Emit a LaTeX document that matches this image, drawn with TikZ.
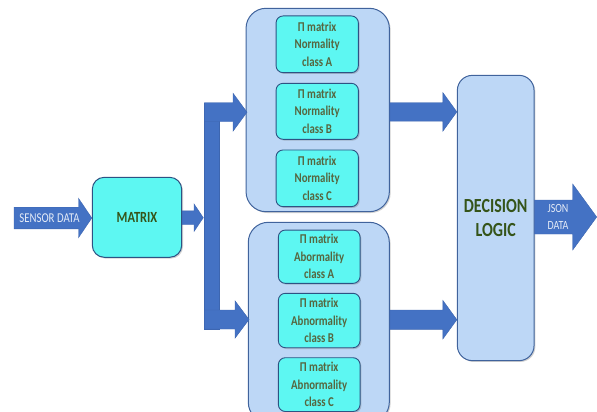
\documentclass[tikz,border=0pt]{standalone}
\usepackage{fontspec}
\setmainfont{Carlito}[FakeStretch=0.8]
\usetikzlibrary{calc,shadows}
\definecolor{arrowblue}{HTML}{4472C4}
\definecolor{arrowedge}{HTML}{3D66B0}
\definecolor{panelfill}{HTML}{BDD7F6}
\definecolor{paneledge}{HTML}{40639C}
\definecolor{cyanfill}{HTML}{5DF7F2}
\definecolor{cyanedge}{HTML}{2E5283}
\definecolor{darkgreen}{HTML}{355419}
\definecolor{graygreen}{HTML}{56663F}
\definecolor{paletext}{HTML}{E4EBF7}
\newcommand\fatarrow[5]{%
  \path[fatarrowstyle] let \p1=(#1), \p2=(#2) in
    (\x1,\y2+#3pt) -- (\x2-#5pt,\y2+#3pt) -- (\x2-#5pt,\y2+#4pt) -- (\x2,\y2)
    -- (\x2-#5pt,\y2-#4pt) -- (\x2-#5pt,\y2-#3pt) -- (\x1,\y2-#3pt) -- cycle;}
\begin{document}
\begin{tikzpicture}[x=1pt,y=-1pt,
  fatarrowstyle/.style={fill=arrowblue,draw=arrowedge,line width=0.4pt},
  softshadow/.style={drop shadow={shadow xshift=1.3pt,shadow yshift=-1.3pt,fill=black!60,opacity=0.3}},
  panel/.style={rectangle,rounded corners=20pt,fill=panelfill,draw=paneledge,line width=1pt,softshadow,inner sep=0pt},
  cellbox/.style={rectangle,rounded corners=7pt,fill=cyanfill,draw=cyanedge,line width=0.9pt,softshadow,
    inner sep=0pt,align=center,text=graygreen,font=\bfseries\fontsize{13.5}{17.5}\selectfont},
  bigbox/.style={rectangle,fill=cyanfill,draw=cyanedge,line width=1pt,softshadow,inner sep=0pt,align=center},
  arrowlabel/.style={text=paletext,align=center,inner sep=0pt}]
\useasboundingbox (0,0) rectangle (597,412);
\clip (0,0) rectangle (597,412);

% main boxes
\node[bigbox,rounded corners=12pt,minimum width=89.4pt,minimum height=80pt,
  text=darkgreen,font=\bfseries\fontsize{15.5}{18}\selectfont] (matrix) at (137,217.3) {MATRIX};
\node[panel,minimum width=143.3pt,minimum height=203.4pt] (normal) at (317.7,110) {};
\node[panel,minimum width=141pt,minimum height=200pt] (abnormal) at (318.8,322.3) {};
\node[panel,rounded corners=15pt,minimum width=76.7pt,minimum height=285.3pt,align=center,
  text=darkgreen,font=\bfseries\fontsize{20}{24}\selectfont] (decision) at (495.7,218) {DECISION\\LOGIC};

% cells of the normality panel
\node[cellbox,minimum width=82.3pt,minimum height=56.7pt] (na) at (317.2,44.3) {Π matrix\\Normality\\class A};
\node[cellbox,minimum width=82.3pt,minimum height=56pt] (nb) at (317.2,111.3) {Π matrix\\Normality\\class B};
\node[cellbox,minimum width=82.3pt,minimum height=56.7pt] (nc) at (317.2,178.3) {Π matrix\\Normality\\class C};

% cells of the abnormality panel
\node[cellbox,minimum width=81.7pt,minimum height=53.3pt] (aa) at (319.2,256.7) {Π matrix\\Abormality\\class A};
\node[cellbox,minimum width=81.7pt,minimum height=54.4pt] (ab) at (319.2,320.5) {Π matrix\\Abnormality\\class B};
\node[cellbox,minimum width=81.7pt,minimum height=53.8pt] (ac) at (319.2,384.6) {Π matrix\\Abnormality\\class C};

% coordinates for the fat arrows
\coordinate (sensorstart) at (14,218);
\coordinate (sensortip) at (matrix.west |- sensorstart);
\coordinate (bartip) at (203.3,217.7);
\coordinate (barleft) at (204.3,0);
\coordinate (toptip) at (247,112.2);
\coordinate (bottip) at (249,319.5);
\coordinate (dtoptip) at (decision.west |- 0,111.9);
\coordinate (dbottip) at (decision.west |- 0,319.7);
\coordinate (jsontip) at (596.7,217);

% fat arrows
\fatarrow{sensorstart}{sensortip}{10.8}{19.7}{13.3}
\fatarrow{matrix.east}{bartip}{6.8}{13.8}{9.3}
\path[fatarrowstyle] (204.3,102.7) rectangle (219.3,329);
\fatarrow{barleft}{toptip}{9.5}{19}{14}
\fatarrow{barleft}{bottip}{9.5}{18.7}{14}
\fatarrow{normal.east}{dtoptip}{9.2}{19.3}{14}
\fatarrow{abnormal.east}{dbottip}{9.7}{19.3}{14}
\fatarrow{decision.east}{jsontip}{17}{33}{24}

% arrow labels
\node[arrowlabel,font=\fontsize{13.5}{15}\selectfont] (sensorlabel) at (49.5,218) {SENSOR DATA};
\node[arrowlabel,font=\fontsize{12.5}{17}\selectfont] (jsonlabel) at (558,217) {JSON\\DATA};
\end{tikzpicture}
\end{document}
